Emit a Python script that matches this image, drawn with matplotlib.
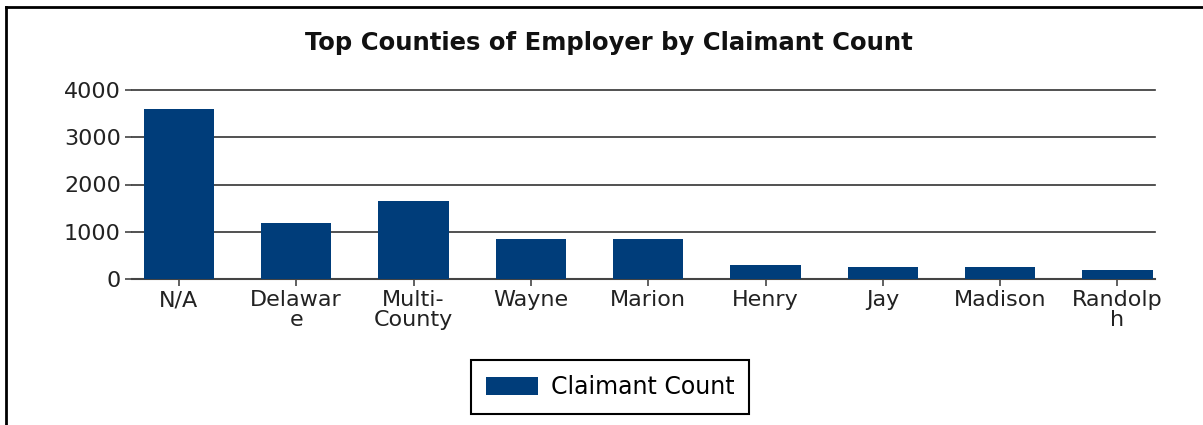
import matplotlib
matplotlib.use("Agg")
import matplotlib.pyplot as plt
from matplotlib.lines import Line2D

# ============================================================
# Data
# ============================================================

counties = ["N/A", "Delawar\ne", "Multi-\nCounty", "Wayne", "Marion",
            "Henry", "Jay", "Madison", "Randolp\nh"]
claimants = [3600, 1190, 1650, 840, 840, 300, 260, 260, 185]
y_ticks = [0, 1000, 2000, 3000, 4000]

bar_color = "#003D7A"

# ============================================================
# Figure
# ============================================================

plt.rcParams["font.family"] = ["DejaVu Sans"]

fig = plt.figure(figsize=(12.03, 4.25), dpi=100)
ax = fig.add_axes([132 / 1203, 1 - 279 / 425, (1155 - 132) / 1203, (279 - 90) / 425])

x = list(range(len(counties)))
ax.bar(x, claimants, width=0.6, color=bar_color, label="Claimant Count", zorder=3)

ax.set_xlim(-0.40, 8.32)
ax.set_ylim(0, 4000)
ax.set_yticks(y_ticks)
ax.set_xticks(x)
ax.set_xticklabels(counties, fontsize=16, color="#222222", linespacing=1.0)
ax.tick_params(axis="y", labelsize=16, labelcolor="#222222", length=5, width=1.2,
               color="#444444", pad=3)
ax.tick_params(axis="x", length=5, width=1.2, color="#444444", pad=3)

ax.grid(axis="y", color="#333333", linewidth=1.2, zorder=0)
for gl in ax.get_ygridlines():
    gl.set_clip_on(False)
for side in ["left", "right", "top"]:
    ax.spines[side].set_visible(False)
ax.spines["bottom"].set_color("#444444")
ax.spines["bottom"].set_linewidth(1.5)

fig.text(609 / 1203, 1 - 43 / 425, "Top Counties of Employer by Claimant Count",
         ha="center", va="center", fontsize=17.5, fontweight="bold", color="#111111")

leg = fig.legend(loc="center", bbox_to_anchor=(610 / 1203, 1 - 387 / 425),
                 fontsize=17, frameon=True, fancybox=False, edgecolor="black",
                 framealpha=1, handlelength=2.2, handleheight=0.8,
                 handletextpad=0.55, borderpad=0.62, borderaxespad=0)
leg.get_frame().set_linewidth(1.5)

# outer border (left and top only)
fig.add_artist(Line2D([5.5 / 1203, 5.5 / 1203], [0, 1 - 7 / 425],
                      transform=fig.transFigure, color="black", linewidth=2))
fig.add_artist(Line2D([5.5 / 1203, 1], [1 - 7 / 425, 1 - 7 / 425],
                      transform=fig.transFigure, color="black", linewidth=2))

fig.savefig("out.png", dpi=100)
